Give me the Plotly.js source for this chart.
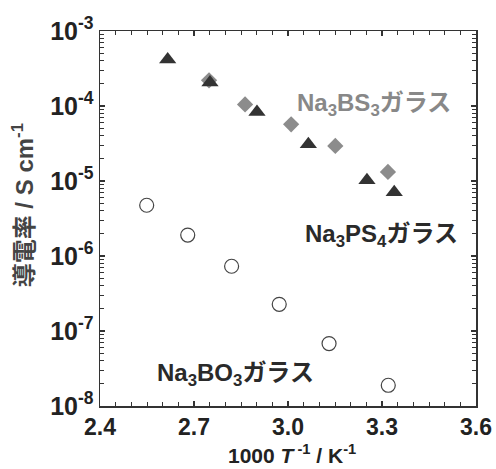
<!DOCTYPE html>
<html><head><meta charset="utf-8">
<script src="https://cdn.plot.ly/plotly-3.0.1.min.js"></script>
<style>body{margin:0;background:#fff}#c{width:496px;height:469px}</style>
</head><body><div id="c"></div>
<script>
const ps4X = [2.616, 2.751, 2.901, 3.065, 3.252, 3.339];
const ps4Y = [4.16e-4, 2.05e-4, 8.3e-5, 3.08e-5, 1.02e-5, 7.1e-6];
const bs3X = [2.748, 2.863, 3.010, 3.151, 3.319];
const bs3Y = [2.2e-4, 1.05e-4, 5.7e-5, 2.93e-5, 1.32e-5];
const bo3X = [2.549, 2.680, 2.820, 2.972, 3.131, 3.320];
const bo3Y = [4.75e-6, 1.9e-6, 7.3e-7, 2.27e-7, 6.8e-8, 1.89e-8];
const xTicks = [2.4, 2.7, 3.0, 3.3, 3.6];
const xTickText = ['2.4', '2.7', '3.0', '3.3', '3.6'];
const yTicks = [1e-8, 1e-7, 1e-6, 1e-5, 1e-4, 1e-3];
const yTickText = ['10<sup>-8</sup>', '10<sup>-7</sup>', '10<sup>-6</sup>', '10<sup>-5</sup>', '10<sup>-4</sup>', '10<sup>-3</sup>'];
const labels = ['Na<sub>3</sub>BS<sub>3</sub>ガラス', 'Na<sub>3</sub>PS<sub>4</sub>ガラス', 'Na<sub>3</sub>BO<sub>3</sub>ガラス'];
const xTitle = '1000 <i>T</i><sup> -1</sup> / K<sup>-1</sup>';
const yTitle = '導電率 / S cm<sup>-1</sup>';

const FONT = '"Liberation Sans", Arial, "Noto Sans CJK JP", sans-serif';
const traces = [
  {x: bs3X, y: bs3Y, mode: 'markers', type: 'scatter',
   marker: {symbol: 'diamond', size: 12.5, color: '#8c8c8c', line: {width: 0}}},
  {x: ps4X, y: ps4Y, mode: 'markers', type: 'scatter',
   marker: {symbol: 'triangle-up', size: 15, color: '#333333', line: {width: 0}}},
  {x: bo3X, y: bo3Y, mode: 'markers', type: 'scatter',
   marker: {symbol: 'circle', size: 14, color: '#ffffff', line: {width: 1.2, color: '#444444'}}}
];
const axisCommon = {
  showline: true, linecolor: '#333', linewidth: 1.5, mirror: 'allticks',
  ticks: 'inside', ticklen: 5, tickwidth: 1.2, tickcolor: '#333',
  showgrid: false, zeroline: false
};
const layout = {
  width: 496, height: 469,
  margin: {l: 100, r: 20, t: 31, b: 63},
  paper_bgcolor: '#fff', plot_bgcolor: '#fff',
  showlegend: false,
  xaxis: Object.assign({}, axisCommon, {
    range: [2.4, 3.6], tickvals: xTicks, ticktext: xTickText,
    tickfont: {family: FONT, size: 23, color: '#222', weight: 'bold'},
    minor: {dtick: 0.05, ticks: 'inside', ticklen: 4, tickwidth: 1, tickcolor: '#333'}
  }),
  yaxis: Object.assign({}, axisCommon, {
    type: 'log', range: [-8, -3], tickvals: yTicks, ticktext: yTickText,
    tickfont: {family: FONT, size: 25, color: '#222', weight: 'bold'},
    minor: {dtick: 'D1', ticks: 'inside', ticklen: 4, tickwidth: 1, tickcolor: '#333'}
  }),
  annotations: [
    {x: 3.275, y: -3.975, xref: 'x', yref: 'y', text: labels[0], showarrow: false,
     font: {family: FONT, size: 24, color: '#888888', weight: 'bold'}},
    {x: 3.298, y: -5.72, xref: 'x', yref: 'y', text: labels[1], showarrow: false,
     font: {family: FONT, size: 24, color: '#2a2a2a', weight: 'bold'}},
    {x: 2.831, y: -7.577, xref: 'x', yref: 'y', text: labels[2], showarrow: false,
     font: {family: FONT, size: 24, color: '#2a2a2a', weight: 'bold'}},
    {x: 0.51, y: -0.166, xref: 'paper', yref: 'paper', text: xTitle, showarrow: false,
     xanchor: 'center', yanchor: 'bottom', borderpad: 0,
     font: {family: FONT, size: 21, color: '#222', weight: 'bold'}},
    {x: -0.205, y: 0.535, xref: 'paper', yref: 'paper', text: yTitle, showarrow: false,
     textangle: -90, xanchor: 'center', yanchor: 'middle',
     font: {family: FONT, size: 24, color: '#444', weight: 'bold'}}
  ]
};
Plotly.newPlot('c', traces, layout, {displayModeBar: false, staticPlot: true});
</script></body></html>
